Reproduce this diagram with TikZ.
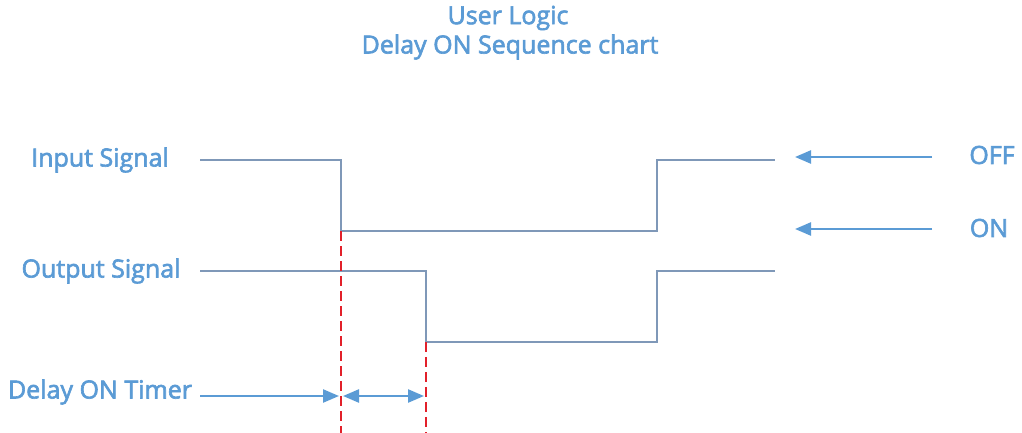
\documentclass[tikz,border=0pt]{standalone}
\usepackage{fontspec}
\setmainfont{Open Sans}
\newfontfamily\lblfont{Open Sans}[FakeBold=2.5]
\usetikzlibrary{arrows.meta}
\definecolor{txt}{HTML}{5B9BD5}
\definecolor{sig}{HTML}{7F98B8}
\definecolor{arr}{HTML}{5B9BD5}
\definecolor{mark}{HTML}{E2202A}
\begin{document}
\begin{tikzpicture}[x=1pt,y=-1pt,
  lbl/.style={text=txt,font=\lblfont\fontsize{25}{28}\selectfont,inner sep=0pt},
  sigline/.style={draw=sig,line width=2.4pt},
  marker/.style={draw=mark,line width=2.6pt,dash pattern=on 10pt off 5pt},
  arrline/.style={draw=arr,line width=2.4pt,-{Triangle[length=16pt,width=13pt]}},
  darrline/.style={draw=arr,line width=2.4pt,{Triangle[length=16pt,width=13pt]}-{Triangle[length=16pt,width=13pt]}}]
\useasboundingbox (0,0) rectangle (1022,433);
% titles
\node[lbl] (t1) at (508,18) {User Logic};
\node[lbl] (t2) at (510,47) {Delay ON Sequence chart};
% labels
\node[lbl] (in) at (100,160) {Input Signal};
\node[lbl] (out) at (101,271) {Output Signal};
\node[lbl] (tim) at (100,392) {Delay ON Timer};
\node[lbl] (off) at (992,155) {OFF};
\node[lbl] (on) at (989,228) {ON};
% input signal
\coordinate (i0) at (200,160);
\coordinate (i1) at (341,160);
\coordinate (i2) at (341,231);
\coordinate (i3) at (657,231);
\coordinate (i4) at (657,160);
\coordinate (i5) at (775,160);
\draw[sigline] (i0) -- (i1) -- (i2) -- (i3) -- (i4) -- (i5);
% output signal
\coordinate (o0) at (200,271);
\coordinate (o1) at (426,271);
\coordinate (o2) at (426,342);
\coordinate (o3) at (657,342);
\coordinate (o4) at (657,271);
\coordinate (o5) at (775,271);
\draw[sigline] (o0) -- (o1) -- (o2) -- (o3) -- (o4) -- (o5);
% red markers
\coordinate (r1) at (341,433);
\coordinate (r2) at (426,433);
\draw[marker] (i2) -- (r1);
\draw[marker] (o2) -- (r2);
% OFF/ON arrows
\coordinate (a1s) at (932,157);
\coordinate (a1e) at (795,157);
\coordinate (a2s) at (932,229);
\coordinate (a2e) at (795,229);
\draw[arrline] (a1s) -- (a1e);
\draw[arrline] (a2s) -- (a2e);
% timer arrows
\coordinate (ts) at (200,396);
\coordinate (te) at (339,396);
\coordinate (ds) at (343,396);
\coordinate (de) at (424,396);
\draw[arrline] (ts) -- (te);
\draw[darrline] (ds) -- (de);
\end{tikzpicture}
\end{document}
